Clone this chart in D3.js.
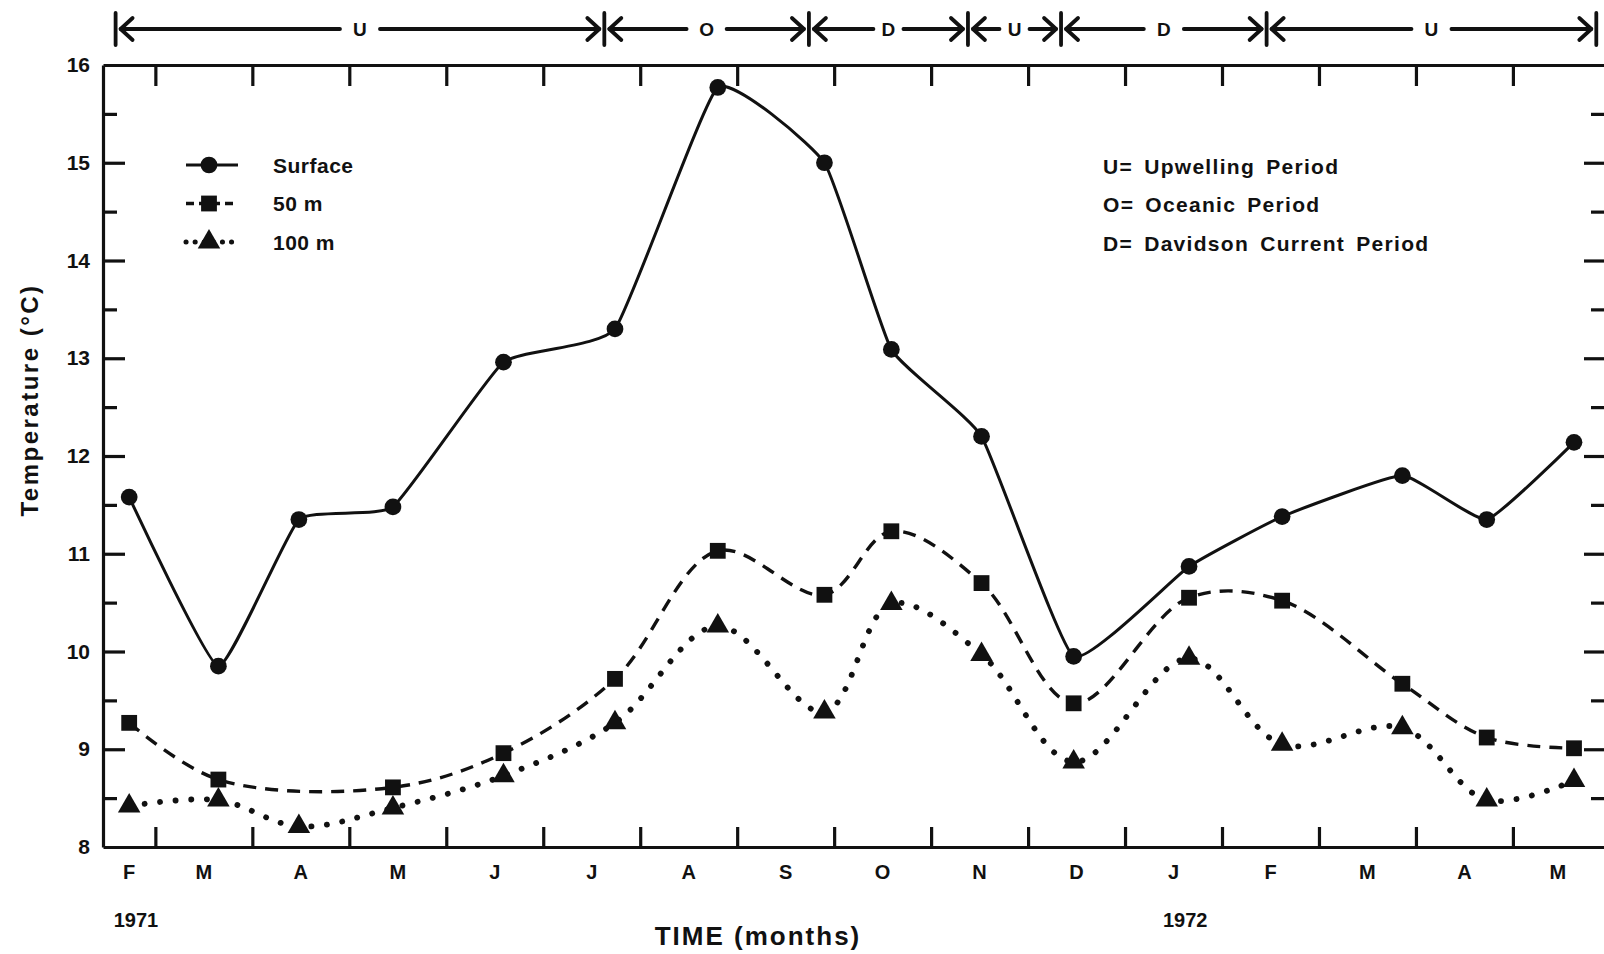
<!DOCTYPE html>
<html>
<head>
<meta charset="utf-8">
<script src="https://cdn.jsdelivr.net/npm/d3@7"></script>
<style>
  body { margin: 0; background: #fff; }
  svg text { font-family: "Liberation Sans", Arial, sans-serif; font-weight: bold; fill: #111; }
</style>
</head>
<body>
<svg></svg>
<script>
// sampling times, in months counted from 1 Feb 1971
var sampleMonths = [0.73, 1.65, 2.48, 3.45, 4.59, 5.74, 6.80, 7.90, 8.59, 9.52, 10.47, 11.66, 12.62, 13.86, 14.73, 15.63];
var surfaceTemp = [11.58, 9.85, 11.35, 11.48, 12.96, 13.30, 15.77, 15.00, 13.09, 12.20, 9.95, 10.87, 11.38, 11.80, 11.35, 12.14];
var temp50m = [9.27, 8.69, null, 8.61, 8.96, 9.72, 11.03, 10.58, 11.23, 10.70, 9.47, 10.55, 10.52, 9.67, 9.12, 9.01];
var temp100m = [8.42, 8.48, 8.21, 8.40, 8.73, 9.27, 10.26, 9.38, 10.49, 9.97, 8.87, 9.93, 9.05, 9.22, 8.48, 8.68];

var monthLabels = ["F", "M", "A", "M", "J", "J", "A", "S", "O", "N", "D", "J", "F", "M", "A", "M"];
var yearLabels = ["1971", "1972"];
var yearMonths = [0.80, 11.62];

var periodBounds = [0.59, 5.63, 7.74, 9.38, 10.34, 12.46, 15.86];
var periodCodes = ["U", "O", "D", "U", "D", "U"];
var periodNames = ["U= Upwelling Period", "O= Oceanic Period", "D= Davidson Current Period"];
var seriesNames = ["Surface", "50 m", "100 m"];

var width = 1604, height = 954;
var plotLeft = 103, plotRight = 1606, plotTop = 65, plotBottom = 847;

var svg = d3.select("svg").attr("width", width).attr("height", height);

var x = d3.scaleLinear().domain([0.46, 15.96]).range([plotLeft, plotRight]);
var y = d3.scaleLinear().domain([8, 16]).range([plotBottom, plotTop]);

var halfTicks = d3.range(8, 16.01, 0.5);
var monthTicks = d3.range(1, 16);

function styleAxis(g) {
  g.select(".domain").attr("stroke", "#111").attr("stroke-width", 3.2);
  g.selectAll(".tick line").attr("stroke", "#111").attr("stroke-width", 3.2);
}

// left axis
var gl = svg.append("g").attr("transform", "translate(" + plotLeft + ",0)")
  .call(d3.axisLeft(y).tickValues(halfTicks).tickSizeInner(-14).tickSizeOuter(0).tickPadding(13)
    .tickFormat(function(d) { return d % 1 ? "" : d; }));
gl.selectAll(".tick").filter(function(d) { return d % 1 == 0; }).select("line").attr("x2", 22);
gl.selectAll(".tick").filter(function(d) { return d == 8 || d == 16; }).select("line").remove();
gl.selectAll(".tick text").style("font-size", "21px").attr("fill", "#111").style("font-family", null);
styleAxis(gl);

// right axis (its line sits just past the edge of the page)
var gr = svg.append("g").attr("transform", "translate(" + plotRight + ",0)")
  .call(d3.axisRight(y).tickValues(halfTicks.filter(function(d) { return d > 8 && d < 16; }))
    .tickSizeInner(-15).tickSizeOuter(0).tickFormat(""));
gr.selectAll(".tick").filter(function(d) { return d % 1 == 0; }).select("line").attr("x2", -22);
styleAxis(gr);

// bottom and top axes, ticks at month boundaries
var gb = svg.append("g").attr("transform", "translate(0," + plotBottom + ")")
  .call(d3.axisBottom(x).tickValues(monthTicks).tickSizeInner(-20).tickSizeOuter(0).tickFormat(""));
styleAxis(gb);
var gt = svg.append("g").attr("transform", "translate(0," + plotTop + ")")
  .call(d3.axisTop(x).tickValues(monthTicks).tickSizeInner(-21).tickSizeOuter(0).tickFormat(""));
styleAxis(gt);

// month labels, centred in the visible part of each month
var dom = x.domain();
svg.append("g").selectAll("text").data(monthLabels).enter().append("text")
  .attr("x", function(d, i) { return x((Math.max(i, dom[0]) + Math.min(i + 1, x.invert(1603))) / 2); })
  .attr("y", 879).attr("text-anchor", "middle").style("font-size", "20px").text(function(d) { return d; });

svg.append("g").selectAll("text").data(yearLabels).enter().append("text")
  .attr("x", function(d, i) { return x(yearMonths[i]); })
  .attr("y", 927).attr("text-anchor", "middle").style("font-size", "20px").text(function(d) { return d; });

svg.append("text").attr("x", 758).attr("y", 945).attr("text-anchor", "middle")
  .style("font-size", "26px").style("letter-spacing", "2px").text("TIME (months)");

svg.append("text").attr("transform", "translate(38,400) rotate(-90)").attr("text-anchor", "middle")
  .style("font-size", "24px").style("letter-spacing", "2.5px").text("Temperature (°C)");

// series
var series = [
  { name: seriesNames[0], values: surfaceTemp, dash: null, width: 3, cap: "butt", curve: d3.curveCardinal.tension(0.6), symbol: d3.symbolCircle, size: 220 },
  { name: seriesNames[1], values: temp50m, dash: "13,9", width: 3.4, cap: "butt", curve: d3.curveCatmullRom.alpha(0.5), symbol: d3.symbolSquare, size: 250 },
  { name: seriesNames[2], values: temp100m, dash: "0.1,15.5", width: 5.8, cap: "round", curve: d3.curveCatmullRom.alpha(0.5), symbol: d3.symbolTriangle, size: 220 }
];

series.forEach(function(s) {
  var pts = [];
  s.values.forEach(function(v, i) { if (v != null) pts.push([sampleMonths[i], v]); });
  var line = d3.line().x(function(d) { return x(d[0]); }).y(function(d) { return y(d[1]); }).curve(s.curve);
  svg.append("path").attr("d", line(pts)).attr("fill", "none").attr("stroke", "#111")
    .attr("stroke-width", s.width).attr("stroke-dasharray", s.dash).attr("stroke-linecap", s.cap);
  svg.append("g").selectAll("path").data(pts).enter().append("path")
    .attr("transform", function(d) { return "translate(" + x(d[0]) + "," + y(d[1]) + ")"; })
    .attr("d", d3.symbol().type(s.symbol).size(s.size)()).attr("fill", "#111");
});

// legend for series
series.forEach(function(s, i) {
  var ly = 165 + i * 38.5;
  svg.append("line").attr("x1", 186).attr("x2", 238).attr("y1", ly).attr("y2", ly)
    .attr("stroke", "#111").attr("stroke-width", i == 2 ? 5 : s.width)
    .attr("stroke-dasharray", i == 1 ? "8,5" : (i == 2 ? "0.1,9" : null)).attr("stroke-linecap", s.cap);
  svg.append("path").attr("transform", "translate(209," + ly + ")")
    .attr("d", d3.symbol().type(s.symbol).size(s.size)()).attr("fill", "#111");
  svg.append("text").attr("x", 273).attr("y", ly).attr("dy", "0.36em").style("font-size", "21px")
    .style("letter-spacing", "0.5px").text(s.name);
});

// legend for periods
svg.append("g").selectAll("text").data(periodNames).enter().append("text")
  .attr("x", 1103).attr("y", function(d, i) { return 166 + i * 38.5; }).attr("dy", "0.36em")
  .style("font-size", "21px").style("letter-spacing", "1.3px").style("word-spacing", "4px")
  .text(function(d) { return d; });

// period arrows along the top
var ay = 29, gap = 15;
var ga = svg.append("g").attr("stroke", "#111").attr("stroke-width", 3.8).attr("fill", "none")
  .attr("stroke-linecap", "round").attr("stroke-linejoin", "round");
periodBounds.forEach(function(b) {
  ga.append("line").attr("x1", x(b)).attr("x2", x(b)).attr("y1", 13).attr("y2", 45);
});
periodCodes.forEach(function(c, i) {
  var a = x(periodBounds[i]) + 5, b = x(periodBounds[i + 1]) - 5, m = (a + b) / 2;
  var g2 = b - a > 150 ? gap + 5 : gap;
  ga.append("line").attr("x1", a).attr("x2", m - g2).attr("y1", ay).attr("y2", ay);
  ga.append("line").attr("x1", m + g2).attr("x2", b).attr("y1", ay).attr("y2", ay);
  ga.append("path").attr("d", "M" + (a + 12) + "," + (ay - 11) + "L" + a + "," + ay + "L" + (a + 12) + "," + (ay + 11));
  ga.append("path").attr("d", "M" + (b - 12) + "," + (ay - 11) + "L" + b + "," + ay + "L" + (b - 12) + "," + (ay + 11));
  svg.append("text").attr("x", m).attr("y", ay).attr("dy", "0.36em").attr("text-anchor", "middle")
    .style("font-size", "19px").text(c);
});
</script>
</body>
</html>
